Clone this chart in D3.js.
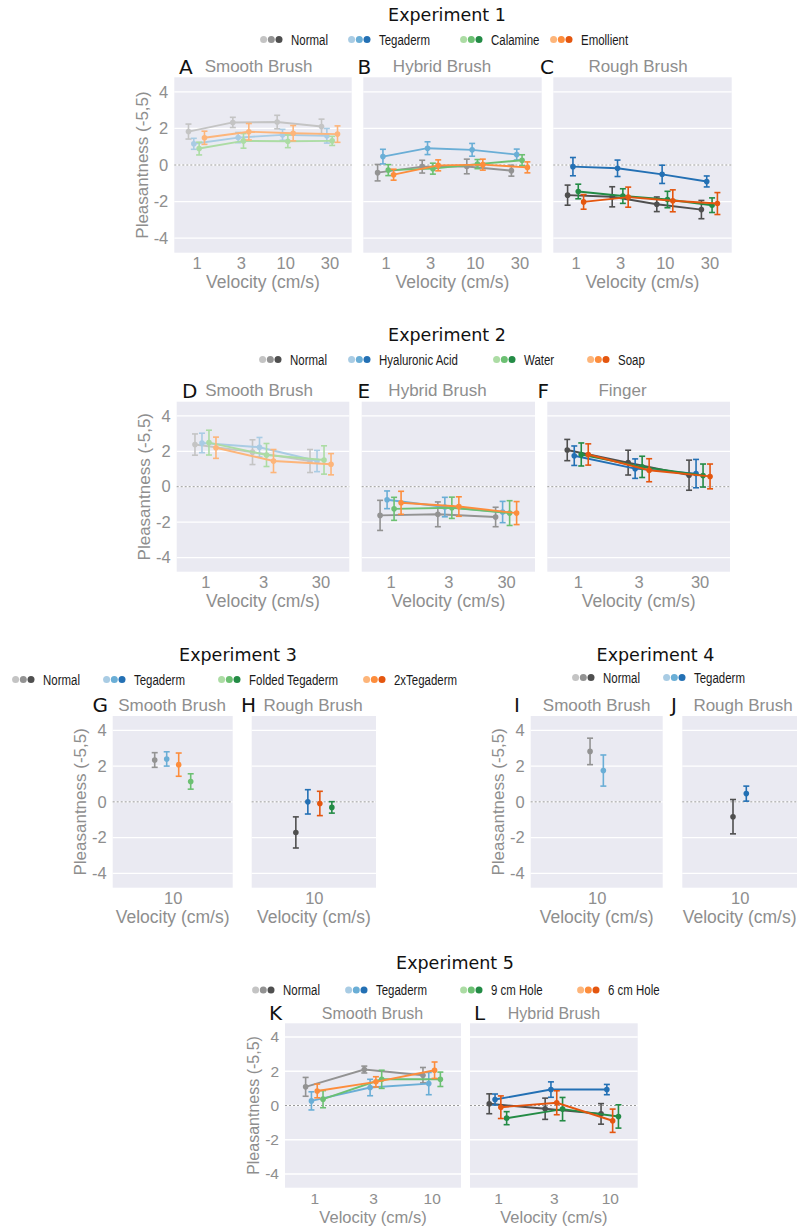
<!DOCTYPE html>
<html>
<head>
<meta charset="utf-8">
<script src="https://cdn.jsdelivr.net/npm/d3@7"></script>
<style>
  body { margin: 0; background: #fff; }
  text { font-family: "Liberation Sans", Arial, sans-serif; }
</style>
</head>
<body>
<svg id="chart" width="803" height="1228"></svg>
<script>
// ---- data (means and 95% CI half widths) ----
const exp1Velocity = ["1", "3", "10", "30"];
const exp1Groups = ["Normal", "Tegaderm", "Calamine", "Emollient"];
const exp1SmoothMean = [[1.83, 2.33, 2.35, 2.11], [1.16, 1.50, 1.65, 1.60], [0.90, 1.32, 1.30, 1.32], [1.49, 1.82, 1.74, 1.69]];
const exp1SmoothErr  = [[0.41, 0.28, 0.37, 0.40], [0.30, 0.28, 0.30, 0.40], [0.35, 0.40, 0.35, 0.25], [0.36, 0.45, 0.42, 0.45]];
const exp1HybridMean = [[-0.42, -0.09, -0.08, -0.31], [0.46, 0.92, 0.83, 0.57], [-0.28, -0.20, 0.05, 0.26], [-0.53, -0.02, 0.02, -0.13]];
const exp1HybridErr  = [[0.45, 0.35, 0.40, 0.30], [0.40, 0.35, 0.35, 0.30], [0.30, 0.30, 0.25, 0.30], [0.30, 0.30, 0.30, 0.30]];
const exp1RoughMean  = [[-1.65, -1.74, -2.15, -2.44], [-0.09, -0.18, -0.51, -0.90], [-1.45, -1.70, -1.89, -2.20], [-2.02, -1.76, -1.96, -2.11]];
const exp1RoughErr   = [[0.55, 0.55, 0.40, 0.50], [0.50, 0.45, 0.50, 0.30], [0.40, 0.40, 0.45, 0.40], [0.40, 0.55, 0.60, 0.60]];

const exp2Velocity = ["1", "3", "30"];
const exp2Groups = ["Normal", "Hyaluronic Acid", "Water", "Soap"];
const exp2SmoothMean = [[2.38, 1.95, 1.45], [2.47, 2.23, 1.45], [2.49, 1.79, 1.51], [2.20, 1.45, 1.27]];
const exp2SmoothErr  = [[0.60, 0.70, 0.65], [0.55, 0.55, 0.60], [0.70, 0.65, 0.80], [0.60, 0.65, 0.60]];
const exp2HybridMean = [[-1.62, -1.56, -1.71], [-0.74, -1.15, -1.43], [-1.25, -1.19, -1.49], [-0.91, -1.12, -1.49]];
const exp2HybridErr  = [[0.85, 0.70, 0.55], [0.50, 0.55, 0.60], [0.65, 0.60, 0.70], [0.65, 0.55, 0.65]];
const exp2FingerMean = [[2.07, 1.36, 0.65], [1.75, 1.02, 0.74], [1.82, 1.12, 0.63], [1.82, 0.93, 0.58]];
const exp2FingerErr  = [[0.60, 0.70, 0.85], [0.55, 0.55, 0.80], [0.65, 0.60, 0.65], [0.60, 0.65, 0.70]];

const exp3Velocity = ["10"];
const exp3Groups = ["Normal", "Tegaderm", "Folded Tegaderm", "2xTegaderm"];
const exp3Dodge = ["Normal", "Tegaderm", "2xTegaderm", "Folded Tegaderm"];
const exp3SmoothMean = [[2.34], [2.40], [1.14], [2.08]];
const exp3SmoothErr  = [[0.41], [0.40], [0.43], [0.65]];
const exp3RoughMean  = [[-1.71], [0.00], [-0.31], [-0.09]];
const exp3RoughErr   = [[0.87], [0.68], [0.32], [0.68]];

const exp4Velocity = ["10"];
const exp4Groups = ["Normal", "Tegaderm"];
const exp4SmoothMean = [[2.82], [1.75]];
const exp4SmoothErr  = [[0.74], [0.87]];
const exp4RoughMean  = [[-0.83], [0.46]];
const exp4RoughErr   = [[0.96], [0.42]];

const exp5Velocity = ["1", "3", "10"];
const exp5Groups = ["Normal", "Tegaderm", "9 cm Hole", "6 cm Hole"];
const exp5Dodge = ["Normal", "Tegaderm", "6 cm Hole", "9 cm Hole"];
const exp5SmoothMean = [[1.09, 2.10, 1.77], [0.27, 1.05, 1.28], [0.37, 1.53, 1.53], [0.85, 1.38, 2.06]];
const exp5SmoothErr  = [[0.55, 0.20, 0.45], [0.53, 0.48, 0.65], [0.50, 0.53, 0.42], [0.40, 0.30, 0.48]];
const exp5HybridMean = [[0.10, -0.19, -0.49], [0.35, 0.93, 0.93], [-0.74, -0.21, -0.64], [-0.10, 0.16, -0.89]];
const exp5HybridErr  = [[0.58, 0.62, 0.60], [0.32, 0.45, 0.30], [0.38, 0.68, 0.68], [0.66, 0.70, 0.68]];

const yTicks = [-4, -2, 0, 2, 4];
const hues = ["gray", "blue", "green", "orange"];
// light / medium / dark
const shades = {
  gray:   ["#c4c4c4", "#939393", "#4f4f4f"],
  blue:   ["#a9cce4", "#6aaed6", "#2370b4"],
  green:  ["#acdca4", "#6cc072", "#238b45"],
  orange: ["#fdb57a", "#fd8d3c", "#e4560f"]
};
const LIGHT = 0, MED = 1, DARK = 2;

const svg = d3.select("#chart");
const textGray = "#8e8e8e";

// ---- experiment headings + legends ----
const headings = [
  { title: "Experiment 1", cx: 447, cy: 15, ly: 39.5, groups: exp1Groups, lx: [260, 348, 460, 550] },
  { title: "Experiment 2", cx: 447, cy: 335, ly: 359.5, groups: exp2Groups, lx: [259, 348, 493, 587] },
  { title: "Experiment 3", cx: 238, cy: 655, ly: 679.5, groups: exp3Groups, lx: [12, 103, 218, 363] },
  { title: "Experiment 4", cx: 655.5, cy: 655, ly: 677.5, groups: exp4Groups, lx: [572, 663] },
  { title: "Experiment 5", cx: 455, cy: 963, ly: 990, groups: exp5Groups, lx: [252, 345, 460, 577] }
];

headings.forEach(h => {
  svg.append("text")
    .attr("x", h.cx).attr("y", h.cy)
    .attr("text-anchor", "middle").attr("dominant-baseline", "central")
    .style("font-family", "'DejaVu Sans', sans-serif")
    .style("font-size", "17.5px").style("fill", "#111")
    .text(h.title);
  h.groups.forEach((name, i) => {
    const item = svg.append("g").attr("transform", `translate(${h.lx[i]},${h.ly})`);
    shades[hues[i]].forEach((c, k) => {
      item.append("circle").attr("cx", 3.6 + k * 7.7).attr("cy", 0).attr("r", 3.5).style("fill", c);
    });
    // the legend face is a narrow sans; squeeze a regular one horizontally
    item.append("text")
      .attr("transform", "translate(31,0) scale(0.74,1)")
      .attr("dominant-baseline", "central")
      .style("font-family", "'Liberation Sans', Arial, sans-serif")
      .style("font-size", "15.5px").style("fill", "#1a1a1a")
      .text(name);
  });
});

// ---- panels ----
const rows = {
  r1: { top: 77.3, bottom: 252.7, fs: 17 },
  r2: { top: 401.7, bottom: 571.7, fs: 17 },
  r3: { top: 716, bottom: 887.7, fs: 17 },
  r5: { top: 1023.3, bottom: 1187.7, fs: 16 }
};

const panels = [
  { row: rows.r1, letter: "A", title: "Smooth Brush", x0: 174.3, x1: 351.7, lx: 179, tx: 258.5, ty: 66.7, shade: LIGHT,
    velocity: exp1Velocity, groups: exp1Groups, order: exp1Groups, mean: exp1SmoothMean, err: exp1SmoothErr, dodge: 16, yAxis: true },
  { row: rows.r1, letter: "B", title: "Hybrid Brush", x0: 363.3, x1: 541.7, lx: 357.5, tx: 442, ty: 66.7, shade: MED,
    velocity: exp1Velocity, groups: exp1Groups, order: exp1Groups, mean: exp1HybridMean, err: exp1HybridErr, dodge: 16 },
  { row: rows.r1, letter: "C", title: "Rough Brush", x0: 553.3, x1: 731.7, lx: 540, tx: 638, ty: 66.7, shade: DARK,
    velocity: exp1Velocity, groups: exp1Groups, order: exp1Groups, mean: exp1RoughMean, err: exp1RoughErr, dodge: 16 },

  { row: rows.r2, letter: "D", title: "Smooth Brush", x0: 176.7, x1: 349.3, lx: 182, tx: 259, ty: 390.7, shade: LIGHT,
    velocity: exp2Velocity, groups: exp2Groups, order: exp2Groups, mean: exp2SmoothMean, err: exp2SmoothErr, dodge: 21, yAxis: true },
  { row: rows.r2, letter: "E", title: "Hybrid Brush", x0: 361.7, x1: 535, lx: 357.5, tx: 437.5, ty: 390.7, shade: MED,
    velocity: exp2Velocity, groups: exp2Groups, order: exp2Groups, mean: exp2HybridMean, err: exp2HybridErr, dodge: 21 },
  { row: rows.r2, letter: "F", title: "Finger", x0: 547.3, x1: 730, lx: 537.5, tx: 622.5, ty: 390.7, shade: DARK,
    velocity: exp2Velocity, groups: exp2Groups, order: exp2Groups, mean: exp2FingerMean, err: exp2FingerErr, dodge: 21 },

  { row: rows.r3, letter: "G", title: "Smooth Brush", x0: 112.7, x1: 232.7, lx: 92.5, tx: 172, ty: 705, shade: MED,
    velocity: exp3Velocity, groups: exp3Groups, order: exp3Dodge, mean: exp3SmoothMean, err: exp3SmoothErr, dodge: 36, yAxis: true },
  { row: rows.r3, letter: "H", title: "Rough Brush", x0: 251.7, x1: 376, lx: 241, tx: 313, ty: 705, shade: DARK,
    velocity: exp3Velocity, groups: exp3Groups, order: exp3Dodge, mean: exp3RoughMean, err: exp3RoughErr, dodge: 36 },

  { row: rows.r3, letter: "I", title: "Smooth Brush", x0: 530.7, x1: 662.7, lx: 514, tx: 596.7, ty: 705, shade: MED,
    velocity: exp4Velocity, groups: exp4Groups, order: exp4Groups, mean: exp4SmoothMean, err: exp4SmoothErr, dodge: 13.3, yAxis: true },
  { row: rows.r3, letter: "J", title: "Rough Brush", x0: 682.3, x1: 797, lx: 671, tx: 743, ty: 705, shade: DARK,
    velocity: exp4Velocity, groups: exp4Groups, order: exp4Groups, mean: exp4RoughMean, err: exp4RoughErr, dodge: 13.3 },

  { row: rows.r5, letter: "K", title: "Smooth Brush", x0: 285, x1: 461, lx: 269, tx: 372.5, ty: 1013.3, shade: MED,
    velocity: exp5Velocity, groups: exp5Groups, order: exp5Dodge, mean: exp5SmoothMean, err: exp5SmoothErr, dodge: 17.4, yAxis: true },
  { row: rows.r5, letter: "L", title: "Hybrid Brush", x0: 470, x1: 637.7, lx: 474, tx: 554, ty: 1013.3, shade: DARK,
    velocity: exp5Velocity, groups: exp5Groups, order: exp5Dodge, mean: exp5HybridMean, err: exp5HybridErr, dodge: 17.4 }
];

panels.forEach(drawPanel);

function drawPanel(p) {
  const r = p.row;
  const g = svg.append("g");
  const x = d3.scalePoint().domain(p.velocity).range([p.x0, p.x1]).padding(0.5);
  const y = d3.scaleLinear().domain([-4.8, 4.8]).range([r.bottom, r.top]);

  g.append("rect")
    .attr("x", p.x0).attr("y", r.top)
    .attr("width", p.x1 - p.x0).attr("height", r.bottom - r.top)
    .style("fill", "#eaeaf2");

  g.selectAll("line.grid").data(yTicks).enter().append("line")
    .attr("class", "grid")
    .attr("x1", p.x0).attr("x2", p.x1)
    .attr("y1", d => y(d)).attr("y2", d => y(d))
    .style("stroke", "#fff").style("stroke-width", 1.3);

  g.append("line")
    .attr("x1", p.x0).attr("x2", p.x1)
    .attr("y1", y(0)).attr("y2", y(0))
    .style("stroke", "#9a9a9a").style("stroke-width", 1)
    .style("stroke-dasharray", "2,2");

  // x axis
  const xa = g.append("g")
    .attr("transform", `translate(0,${r.bottom})`)
    .call(d3.axisBottom(x).tickSize(0).tickPadding(5));
  xa.select(".domain").remove();
  xa.selectAll("text").style("font-size", (r.fs - 0.5) + "px").style("fill", textGray)
    .style("font-family", "'Liberation Sans', Arial, sans-serif");

  g.append("text")
    .attr("x", (p.x0 + p.x1) / 2).attr("y", r.bottom + 29)
    .attr("text-anchor", "middle").attr("dominant-baseline", "central")
    .style("font-size", (r.fs + 0.5) + "px").style("fill", textGray)
    .text("Velocity (cm/s)");

  if (p.yAxis) {
    const ya = g.append("g")
      .attr("transform", `translate(${p.x0},0)`)
      .call(d3.axisLeft(y).tickValues(yTicks).tickSize(0).tickPadding(6).tickFormat(d => String(d)));
    ya.select(".domain").remove();
    ya.selectAll("text").style("font-size", (r.fs - 0.5) + "px").style("fill", textGray)
      .style("font-family", "'Liberation Sans', Arial, sans-serif");
    g.append("text")
      .attr("transform", `translate(${p.x0 - 32},${(r.top + r.bottom) / 2}) rotate(-90)`)
      .attr("text-anchor", "middle").attr("dominant-baseline", "central")
      .style("font-size", r.fs + "px").style("fill", textGray)
      .text("Pleasantness (-5,5)");
  }

  // panel letter + title
  g.append("text")
    .attr("x", p.lx).attr("y", p.ty)
    .attr("dominant-baseline", "central")
    .style("font-family", "'DejaVu Sans', sans-serif")
    .style("font-size", "20px").style("fill", "#111")
    .text(p.letter);
  g.append("text")
    .attr("x", p.tx).attr("y", p.ty)
    .attr("text-anchor", "middle").attr("dominant-baseline", "central")
    .style("font-size", r.fs + "px").style("fill", textGray)
    .text(p.title);

  // series
  const n = p.order.length;
  p.groups.forEach((name, gi) => {
    const color = shades[hues[gi]][p.shade];
    const off = n > 1 ? p.dodge * (p.order.indexOf(name) / (n - 1) - 0.5) : 0;
    const pts = p.velocity.map((v, i) => ({ x: x(v) + off, m: p.mean[gi][i], e: p.err[gi][i] }));
    const sg = g.append("g");

    if (pts.length > 1) {
      sg.append("path")
        .attr("d", d3.line().x(d => d.x).y(d => y(d.m))(pts))
        .style("fill", "none").style("stroke", color).style("stroke-width", 1.9);
    }
    pts.forEach(d => {
      sg.append("line")
        .attr("x1", d.x).attr("x2", d.x)
        .attr("y1", y(d.m - d.e)).attr("y2", y(d.m + d.e))
        .style("stroke", color).style("stroke-width", 1.6);
      [d.m - d.e, d.m + d.e].forEach(v => {
        sg.append("line")
          .attr("x1", d.x - 3).attr("x2", d.x + 3)
          .attr("y1", y(v)).attr("y2", y(v))
          .style("stroke", color).style("stroke-width", 1.6);
      });
      sg.append("circle")
        .attr("cx", d.x).attr("cy", y(d.m)).attr("r", 2.8)
        .style("fill", color);
    });
  });
}
</script>
</body>
</html>
